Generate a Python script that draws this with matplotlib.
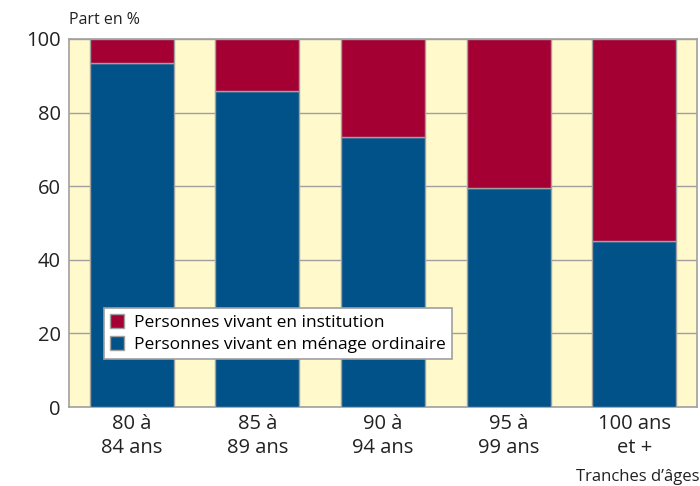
import matplotlib

matplotlib.use("Agg")
import matplotlib.pyplot as plt
from matplotlib.patches import Patch

plt.rcParams["font.family"] = ["Open Sans", "DejaVu Sans"]

categories = ["80 à\n84 ans", "85 à\n89 ans", "90 à\n94 ans", "95 à\n99 ans", "100 ans\net +"]
menage_ordinaire = [93.5, 86.0, 73.5, 59.5, 45.0]
institution = [100 - v for v in menage_ordinaire]
y_ticks = [0, 20, 40, 60, 80, 100]

BLUE = "#02528a"
RED = "#a50034"
YELLOW = "#fff9cc"
GREY = "#a0a0a0"
TEXT = "#222222"

fig = plt.figure(figsize=(7.0, 4.86), dpi=100)
ax = fig.add_axes([69 / 700, 79 / 486, 628 / 700, 368 / 486])
ax.set_facecolor(YELLOW)

x = range(len(categories))
ax.bar(x, menage_ordinaire, width=0.67, color=BLUE, edgecolor=GREY, linewidth=1.0, zorder=3)
ax.bar(x, institution, width=0.67, bottom=menage_ordinaire, color=RED,
       edgecolor=GREY, linewidth=1.0, zorder=3)

ax.set_xlim(-0.5, len(categories) - 0.5)
ax.set_ylim(0, 100)
ax.set_yticks(y_ticks)
ax.set_xticks(list(x))
ax.set_xticklabels(categories, linespacing=1.3)
ax.tick_params(length=0, labelsize=14.5, colors=TEXT, pad=5)
ax.tick_params(axis="y", pad=6)
ax.yaxis.grid(True, color=GREY, linewidth=1.0, zorder=1)
ax.set_axisbelow(True)
for spine in ax.spines.values():
    spine.set_color(GREY)
    spine.set_linewidth(1.2)

fig.text(69 / 700, 1 - 20 / 486, "Part en %", fontsize=11.5, color=TEXT, va="center", ha="left")
fig.text(1.0, 1 - 477 / 486, "Tranches d’âges", fontsize=12, color=TEXT, va="center", ha="right")

handles = [Patch(facecolor=RED, edgecolor=GREY), Patch(facecolor=BLUE, edgecolor=GREY)]
labels = ["Personnes vivant en institution", "Personnes vivant en ménage ordinaire"]
leg = ax.legend(handles, labels, loc="lower left", bbox_to_anchor=(0.055, 0.13),
                fontsize=12.5, frameon=True, fancybox=False, framealpha=1.0,
                handlelength=0.85, handleheight=0.85, handletextpad=0.55,
                borderpad=0.35, borderaxespad=0.0, labelspacing=0.3)
leg.get_frame().set_edgecolor(GREY)
leg.get_frame().set_linewidth(1.2)
leg.get_frame().set_facecolor("white")
leg.set_zorder(5)

fig.savefig("out.png", dpi=100)
